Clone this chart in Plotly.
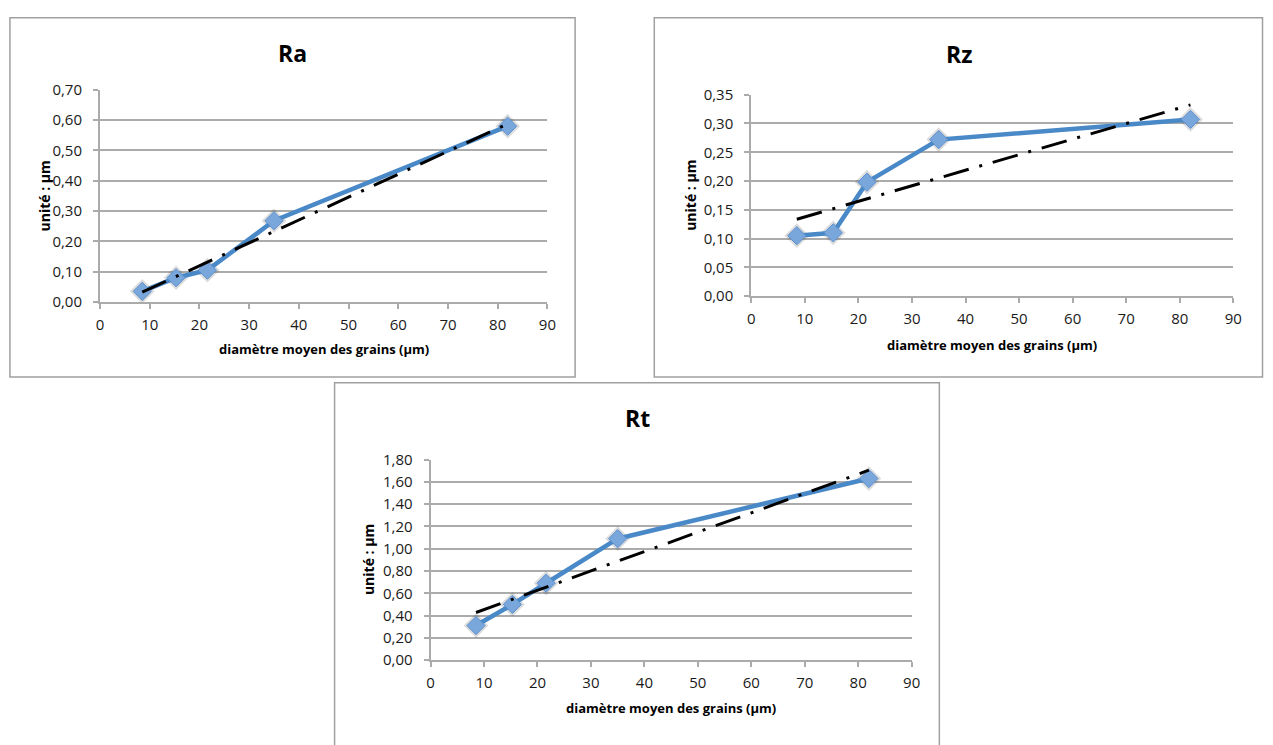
import numpy as np
import plotly.graph_objects as go

# ---------------- data ----------------
diam = [8.5, 15.3, 21.6, 35.0, 82.0]          # diamètre moyen des grains (µm)
ra = [0.035, 0.080, 0.105, 0.268, 0.580]
rz = [0.105, 0.110, 0.198, 0.272, 0.307]
rt = [0.31, 0.50, 0.69, 1.09, 1.63]

chart_titles = ["Ra", "Rz", "Rt"]
x_ticks = [0, 10, 20, 30, 40, 50, 60, 70, 80, 90]
ra_ticks = [0.0, 0.1, 0.2, 0.3, 0.4, 0.5, 0.6, 0.7]
rz_ticks = [0.0, 0.05, 0.10, 0.15, 0.20, 0.25, 0.30, 0.35]
rt_ticks = [0.0, 0.2, 0.4, 0.6, 0.8, 1.0, 1.2, 1.4, 1.6, 1.8]
x_title = "diamètre moyen des grains (µm)"
y_title = "unité : µm"

# ---------------- layout helpers (pixels -> paper) ----------------
W, H = 1273, 745
def px(x):
    return x / W
def py(y):
    return 1 - y / H

FONT = "Open Sans"
GRID = "#ababab"
BORDER = "#a0a0a0"
BLUE = "#4A89C8"

# plot areas in pixels: (x0, x1, ytop, ybottom)
areas = [(97, 549, 81, 299), (755, 1242, 86, 293), (431, 917, 461, 667)]
boxes = [(6, 577, 7, 376), (657, 1271.5, 7, 376), (334, 945, 382, 760)]
series = [ra, rz, rt]
yticks_all = [ra_ticks, rz_ticks, rt_ticks]
title_pos = [(291, 43), (965, 44), (640, 418)]
xtitle_pos = [(323, 347), (998, 343), (674, 716)]
ytitle_pos = [(41, 190), (694, 189), (369, 564)]

fig = go.Figure()
layout = dict(
    width=W, height=H, margin=dict(l=0, r=0, t=0, b=0),
    paper_bgcolor="white", plot_bgcolor="white", showlegend=False,
    separators=", ", shapes=[], annotations=[],
    font=dict(family=FONT, color="#1a1a1a"),
)

for i, (vals, yt) in enumerate(zip(series, yticks_all)):
    n = "" if i == 0 else str(i + 1)
    xa, ya = "x" + n, "y" + n
    x0, x1, yt0, yb0 = areas[i]

    # linear trendline (least squares fit on the data, like the spreadsheet's)
    slope, icpt = np.polyfit(diam, vals, 1)
    tx = [min(diam), max(diam)]
    ty = [slope * v + icpt for v in tx]

    # soft shadow of the markers
    fig.add_trace(go.Scatter(
        x=diam, y=vals, mode="markers", xaxis=xa, yaxis=ya,
        marker=dict(symbol="diamond", size=19, color="rgba(60,60,60,0.18)", line=dict(width=0)),
        hoverinfo="skip"))
    fig.add_trace(go.Scatter(
        x=diam, y=vals, mode="lines+markers", xaxis=xa, yaxis=ya,
        line=dict(color=BLUE, width=4.5),
        marker=dict(symbol="diamond", size=14, color="#7AA7DB",
                    line=dict(color="#5C90CF", width=1))))
    fig.add_trace(go.Scatter(
        x=tx, y=ty, mode="lines", xaxis=xa, yaxis=ya,
        line=dict(color="black", width=3, dash="26px,11px,3px,11px"),
        hoverinfo="skip"))

    ymax = yt[-1]
    layout["xaxis" + n] = dict(
        domain=[px(x0), px(x1)], anchor=ya, range=[0, 90],
        tickvals=x_ticks, ticktext=[str(v) for v in x_ticks],
        showgrid=False, zeroline=False, showline=True, linecolor=GRID, linewidth=2,
        ticks="outside", ticklen=5, tickcolor=GRID, tickwidth=2,
        tickfont=dict(size=15, family=FONT, color="#1a1a1a"), ticklabelstandoff=3,
        fixedrange=True)
    layout["yaxis" + n] = dict(
        domain=[py(yb0), py(yt0)], anchor=xa, range=[0, ymax * 1.000001],
        tickvals=yt, ticktext=[f"{v:.2f}".replace(".", ",") for v in yt],
        showgrid=True, gridcolor=GRID, gridwidth=2, zeroline=False,
        showline=True, linecolor=GRID, linewidth=2,
        ticks="outside", ticklen=5, tickcolor=GRID, tickwidth=2,
        tickfont=dict(size=15, family=FONT, color="#1a1a1a"), ticklabelstandoff=8,
        fixedrange=True)

    bx0, bx1, by0, by1 = boxes[i]
    layout["shapes"].append(dict(
        type="rect", xref="paper", yref="paper", layer="below",
        x0=px(bx0), x1=px(bx1), y0=py(by1), y1=py(by0),
        line=dict(color=BORDER, width=1.5), fillcolor="rgba(0,0,0,0)"))

    tx_, ty_ = title_pos[i]
    layout["annotations"].append(dict(
        text="<b>" + chart_titles[i] + "</b>", x=px(tx_), y=py(ty_),
        xref="paper", yref="paper", xanchor="center", yanchor="middle",
        showarrow=False, font=dict(size=23, family=FONT, color="black")))
    ax_, ay_ = xtitle_pos[i]
    layout["annotations"].append(dict(
        text="<b>" + x_title + "</b>", x=px(ax_), y=py(ay_),
        xref="paper", yref="paper", xanchor="center", yanchor="middle",
        showarrow=False, font=dict(size=13, family=FONT, color="black")))
    yx_, yy_ = ytitle_pos[i]
    layout["annotations"].append(dict(
        text="<b>" + y_title + "</b>", x=px(yx_), y=py(yy_), textangle=-90,
        xref="paper", yref="paper", xanchor="center", yanchor="middle",
        showarrow=False, font=dict(size=14, family=FONT, color="black")))

fig.update_layout(**layout)
fig.write_html(
    "out.html",
    config={"displayModeBar": False, "staticPlot": True},
    post_script="document.body.style.margin='0';document.body.style.overflow='hidden';",
)
